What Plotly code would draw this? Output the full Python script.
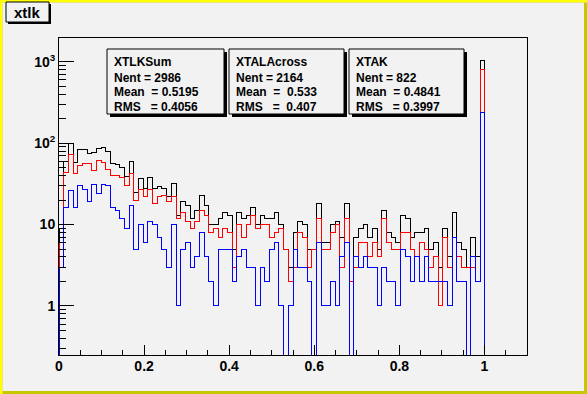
import numpy as np
import plotly.graph_objects as go

# ---------------- data ----------------
x_min, x_max, n_bins = 0.0, 1.1, 100

xtlksum = [9, 60, 98, 58, 83, 83, 75, 77, 85, 89,
           78, 56, 55, 50, 39, 59, 25, 37, 28, 38,
           28, 29, 28, 22, 32, 13, 19, 17, 12, 15,
           23, 17, 10, 10, 12, 14, 13, 5, 14, 12,
           13, 16, 10, 13, 12, 12, 14, 10, 5, 3,
           8, 11, 10, 5, 5, 18, 6, 6, 10, 11,
           7, 18, 2, 7, 9, 10, 7, 9, 5, 15,
           8, 7, 6, 13, 12, 7, 8, 8, 9, 5,
           6, 3, 9, 4, 14, 6, 5, 3, 7, 4,
           1035, 0, 0, 0, 0, 0, 0, 0, 0, 0]

xtalacross = [6, 44, 72, 42, 53, 56, 56, 46, 61, 58,
              48, 40, 40, 38, 30, 42, 20, 27, 22, 27,
              18, 22, 23, 19, 22, 12, 14, 11, 9, 11,
              15, 13, 8, 9, 7, 9, 8, 3, 10, 7,
              10, 13, 9, 10, 10, 7, 8, 9, 5, 2,
              3, 8, 7, 3, 5, 12, 5, 5, 8, 10,
              3, 12, 2, 3, 6, 6, 4, 6, 4, 12,
              6, 5, 5, 8, 8, 5, 4, 6, 5, 3,
              4, 1, 7, 3, 7, 4, 3, 3, 3, 2,
              800, 0, 0, 0, 0, 0, 0, 0, 0, 0]

xtak = [3, 16, 26, 16, 30, 27, 19, 31, 24, 31,
        30, 16, 15, 12, 9, 17, 5, 10, 6, 11,
        10, 7, 5, 3, 10, 1, 5, 6, 3, 4,
        8, 4, 2, 1, 5, 5, 5, 2, 4, 5,
        3, 3, 1, 3, 2, 5, 6, 1, 0, 1,
        5, 3, 3, 2, 0, 6, 1, 1, 2, 1,
        4, 6, 0, 4, 3, 4, 3, 3, 1, 3,
        2, 2, 1, 5, 4, 2, 4, 2, 4, 2,
        2, 2, 2, 1, 7, 2, 2, 0, 4, 2,
        235, 0, 0, 0, 0, 0, 0, 0, 0, 0]

series_names = ["XTLKSum", "XTALAcross", "XTAK"]
series_colors = ["#000000", "#ff0000", "#0000ff"]
stat_lines = [
    ["XTLKSum", "Nent = 2986", "Mean\u00a0\u00a0= 0.5195", "RMS\u00a0\u00a0\u00a0= 0.4056"],
    ["XTALAcross", "Nent = 2164", "Mean\u00a0\u00a0=\u00a0\u00a00.533", "RMS\u00a0\u00a0\u00a0=\u00a0\u00a00.407"],
    ["XTAK", "Nent = 822", "Mean\u00a0\u00a0= 0.4841", "RMS\u00a0\u00a0\u00a0= 0.3997"],
]
x_tickvals = [0, 0.2, 0.4, 0.6, 0.8, 1.0]
x_ticktext = ["0", "0.2", "0.4", "0.6", "0.8", "1"]
y_tickvals = [1, 10, 100, 1000]
y_ticktext = ["1", "10", "10<sup>2</sup>", "10<sup>3</sup>"]
title_text = "xtlk"

# ---------------- layout geometry (pixels) ----------------
W, H = 587, 394
L, R, T, B = 59, 527, 38, 355
BG = "#f2f2f2"
FONT = "Liberation Sans"


def px(x):
    return (x - L) / (R - L)


def py(y):
    return (B - y) / (B - T)


edges = np.linspace(x_min, x_max, n_bins + 1)
floor = 1e-3


def step(vals):
    v = np.array(vals, dtype=float)
    v = np.where(v > 0, v, floor)
    xs = np.concatenate([[edges[0]], edges[:-1], [edges[-1], edges[-1]]])
    ys = np.concatenate([[floor], v, [v[-1], floor]])
    return xs, ys


fig = go.Figure()
for vals, name, col in zip([xtlksum, xtalacross, xtak], series_names, series_colors):
    xs, ys = step(vals)
    fig.add_trace(go.Scatter(x=xs, y=ys, mode="lines", line=dict(color=col, width=1, shape="hv"),
                             name=name, hoverinfo="skip"))

minor_y = [m * 10.0 ** e for e in range(-1, 4) for m in range(2, 10)]

shapes = []
annotations = []

# canvas border (ROOT bevel)
shapes.append(dict(type="rect", xref="paper", yref="paper", x0=px(0), x1=px(W), y0=py(H), y1=py(0),
                   line=dict(width=0), fillcolor="#ffff00", layer="below"))
shapes.append(dict(type="rect", xref="paper", yref="paper", x0=px(2.5), x1=px(W), y0=py(H), y1=py(2.5),
                   line=dict(width=0), fillcolor="#c8c800", layer="below"))
shapes.append(dict(type="rect", xref="paper", yref="paper", x0=px(2.5), x1=px(W - 3), y0=py(H - 3), y1=py(2.5),
                   line=dict(width=0), fillcolor=BG, layer="below"))

# title box
shapes.append(dict(type="rect", xref="paper", yref="paper", x0=px(8), x1=px(51), y0=py(24), y1=py(4),
                   line=dict(width=0), fillcolor="#000000"))
shapes.append(dict(type="rect", xref="paper", yref="paper", x0=px(6), x1=px(49), y0=py(22), y1=py(2),
                   line=dict(width=1, color="#000000"), fillcolor=BG))
annotations.append(dict(xref="paper", yref="paper", x=px(27.5), y=py(12.5), text=title_text, showarrow=False,
                        xanchor="center", yanchor="middle",
                        font=dict(family=FONT, size=15, color="#000000", weight="bold")))

# stat boxes
boxes = [(107, 224), (229, 344), (349, 464)]
line_y = [61.7, 78, 92, 107.3]
for (bx0, bx1), lines in zip(boxes, stat_lines):
    shapes.append(dict(type="rect", xref="paper", yref="paper", x0=px(bx0 + 3), x1=px(bx1 + 3),
                       y0=py(117), y1=py(52), line=dict(width=0), fillcolor="#000000"))
    shapes.append(dict(type="rect", xref="paper", yref="paper", x0=px(bx0), x1=px(bx1),
                       y0=py(114), y1=py(49), line=dict(width=1, color="#000000"), fillcolor=BG))
    for txt, yy in zip(lines, line_y):
        annotations.append(dict(xref="paper", yref="paper", x=px(bx0 + 5), y=py(yy), text=txt,
                                showarrow=False, xanchor="left", yanchor="middle",
                                font=dict(family=FONT, size=12, color="#000000", weight="bold")))

fig.update_layout(
    width=W, height=H,
    margin=dict(l=L, r=W - R, t=T, b=H - B, pad=0),
    paper_bgcolor=BG, plot_bgcolor=BG,
    showlegend=False,
    shapes=shapes, annotations=annotations,
    xaxis=dict(range=[x_min, x_max], tickmode="array", tickvals=x_tickvals, ticktext=x_ticktext,
               ticks="inside", ticklen=10, tickwidth=1, tickcolor="#000000",
               showline=True, mirror=True, linecolor="#000000", linewidth=1,
               showgrid=False, zeroline=False, ticklabelstandoff=-2,
               minor=dict(ticks="inside", ticklen=5, tickwidth=1, tickcolor="#000000", dtick=0.05, tick0=0,
                          showgrid=False),
               tickfont=dict(family=FONT, size=14, color="#000000", weight="bold")),
    yaxis=dict(type="log", range=[-0.6025, 3.291], tickmode="array", tickvals=y_tickvals, ticktext=y_ticktext,
               ticks="inside", ticklen=15, tickwidth=1, tickcolor="#000000",
               showline=True, mirror=True, linecolor="#000000", linewidth=1,
               showgrid=False, zeroline=False,
               minor=dict(ticks="inside", ticklen=7, tickwidth=1, tickcolor="#000000", tickmode="array",
                          tickvals=minor_y, showgrid=False),
               tickfont=dict(family=FONT, size=14, color="#000000", weight="bold")),
)

fig.write_html(
    "out.html",
    config={"displayModeBar": False, "staticPlot": True},
    post_script=(
        "document.body.style.margin='0px';"
        "document.querySelectorAll('.scatterlayer path').forEach(function(p){p.style.shapeRendering='crispEdges';});"
    ),
)
